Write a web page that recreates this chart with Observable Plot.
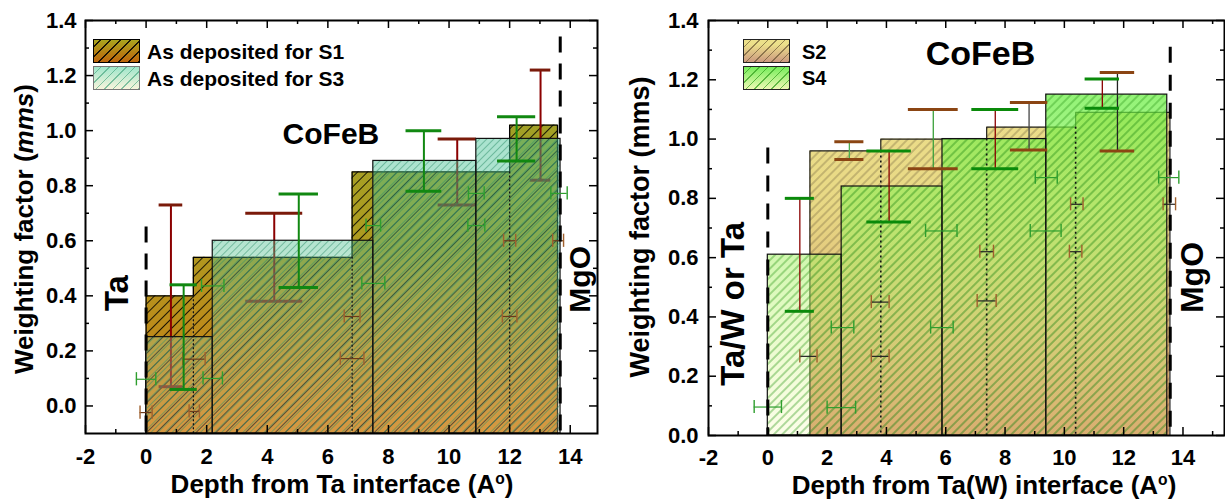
<!DOCTYPE html>
<html><head><meta charset="utf-8">
<script src="https://cdn.jsdelivr.net/npm/d3@7"></script>
<script src="https://cdn.jsdelivr.net/npm/@observablehq/plot@0.6"></script>
<style>
body{margin:0;background:#fff;overflow:hidden;font-family:"Liberation Sans",Arial,sans-serif;}
#wrap{position:relative;width:1225px;height:501px;overflow:hidden;}
.panel{position:absolute;top:0;}
.lbl{position:absolute;white-space:nowrap;color:#000;font-weight:bold;line-height:1;}
.xt{line-height:20px;transform:translateX(-50%);font-size:26px;}
.rot{transform:translate(-50%,-50%) rotate(-90deg);line-height:22px;}
.sw{position:absolute;width:47px;height:24px;box-sizing:border-box;}
sup{font-size:0.6em;vertical-align:0.55em;line-height:0;}
</style></head><body>
<div id="wrap">
  <div id="left" class="panel" style="left:0;width:612px"></div>
  <div id="right" class="panel" style="left:610px;width:615px"></div>

  <div class="sw" style="left:93px;top:39px;border:1.5px solid #000;background:repeating-linear-gradient(-45deg,rgba(0,0,0,0.85) 0 1.2px,transparent 1.2px 7px),linear-gradient(#aaa51e,#bd650c);"></div>
  <div class="sw" style="left:93px;top:66px;border:1px solid #777;background:repeating-linear-gradient(-45deg,rgba(60,160,120,0.6) 0 1px,transparent 1px 6px),linear-gradient(#9fe6cb,#f8f4dc);"></div>
  <div class="lbl" style="left:147px;top:41px;font-size:21px;">As deposited for S1</div>
  <div class="lbl" style="left:147px;top:68px;font-size:21px;">As deposited for S3</div>

  <div class="sw" style="left:743px;top:39px;border:1px solid #222;background:repeating-linear-gradient(-45deg,rgba(90,70,40,0.6) 0 1px,transparent 1px 6px),linear-gradient(#ece08a 20%,#cc9a80);"></div>
  <div class="sw" style="left:743px;top:66px;border:1px solid #222;background:repeating-linear-gradient(-45deg,rgba(50,160,30,0.7) 0 1px,transparent 1px 6px),linear-gradient(#76ee5a,#eef8b4);"></div>
  <div class="lbl" style="left:802px;top:42px;font-size:20px;">S2</div>
  <div class="lbl" style="left:802px;top:68px;font-size:20px;">S4</div>

  <div class="lbl rot" style="left:24px;top:229px;font-size:26px;">Weighting factor (<i>mms</i>)</div>
  <div class="lbl rot" style="left:640px;top:227px;font-size:27px;">Weighting factor (mms)</div>
  <div class="lbl xt" style="left:342px;top:474px;">Depth from Ta interface (A<sup>o</sup>)</div>
  <div class="lbl xt" style="left:984px;top:475px;">Depth from Ta(W) interface (A<sup>o</sup>)</div>
</div>
<script>
// ---------------- data ----------------
// Left panel (S1, S3): step profiles
const s1Edges = [0, 1.56, 6.8, 12.0, 13.58];
const s1Values = [0.40, 0.54, 0.85, 1.02];
const s3Edges = [0, 2.2, 7.5, 10.9, 13.68];
const s3Values = [0.25, 0.60, 0.89, 0.97];
// Right panel (S2, S4)
const s2Edges = [1.42, 3.81, 7.38, 10.38, 13.56];
const s2Values = [0.96, 1.00, 1.04, 1.09];
const s4Edges = [0, 2.49, 5.89, 9.39, 13.47];
const s4Values = [0.61, 0.84, 1.00, 1.15];

// vertical error bars (left)
const s1ErrX = [0.82, 4.23, 10.27, 13.02];
const s1ErrLo = [0.07, 0.38, 0.73, 0.82];
const s1ErrHi = [0.73, 0.70, 0.97, 1.22];
const s1ErrCap = [0.39, 0.94, 0.63, 0.34];
const s3ErrX = [1.24, 5.04, 9.17, 12.23];
const s3ErrLo = [0.06, 0.43, 0.78, 0.89];
const s3ErrHi = [0.44, 0.77, 1.00, 1.05];
const s3ErrCap = [0.45, 0.65, 0.59, 0.63];
// horizontal error bars (left)
const s1HX = [0.0, 1.58, 1.59, 6.8, 6.8, 12.0, 12.0, 13.6];
const s1HY = [-0.024, 0.17, -0.02, 0.325, 0.172, 0.325, 0.60, 0.60];
const s1HW = [0.2, 0.37, 0.17, 0.26, 0.39, 0.24, 0.2, 0.18];
const s3HX = [0.0, 2.2, 2.2, 7.5, 7.5, 10.9, 10.9, 13.63];
const s3HY = [0.097, 0.10, 0.436, 0.445, 0.655, 0.772, 0.655, 0.772];
const s3HW = [0.32, 0.32, 0.37, 0.38, 0.24, 0.26, 0.28, 0.27];

// vertical error bars (right)
const rErrX = [1.08, 2.75, 4.09, 5.58, 7.67, 8.81, 11.28, 11.79];
const rErrLo = [0.419, 0.931, 0.72, 0.90, 0.90, 0.963, 1.104, 0.96];
const rErrHi = [0.80, 0.991, 0.96, 1.10, 1.10, 1.123, 1.203, 1.225];
const rErrCap = [0.49, 0.49, 0.75, 0.84, 0.79, 0.63, 0.58, 0.58];
const rErrLine = ["#8b0000", "#4caf50", "#8b0000", "#3aa03a", "#8b0000", "#444", "#8b0000", "#222"];
const rErrCapColor = ["#0a8a0a", "#8b4513", "#0a8a0a", "#8b4513", "#0a8a0a", "#8b4513", "#0a8a0a", "#8b4513"];
// horizontal error bars (right)
const s2HX = [1.37, 3.79, 3.79, 7.38, 7.38, 10.38, 10.42, 13.54];
const s2HY = [0.267, 0.45, 0.267, 0.454, 0.62, 0.62, 0.78, 0.78];
const s2HW = [0.29, 0.3, 0.3, 0.32, 0.23, 0.21, 0.21, 0.21];
const s4HX = [0.0, 2.52, 2.48, 5.87, 5.85, 9.39, 9.37, 13.52];
const s4HY = [0.096, 0.364, 0.094, 0.364, 0.69, 0.87, 0.69, 0.87];
const s4HW = [0.46, 0.38, 0.48, 0.38, 0.53, 0.37, 0.52, 0.34];

// layer boundary markers (dashed) and annotations
const markLX = [0, 13.67], markLTop = [0.65, 1.34];
const markRX = [0, 13.57], markRTop = [0.97, 1.31];
const annLText = ["Ta", "CoFeB", "MgO"], annLX = [-0.94, 6.1, 14.32], annLY = [0.41, 0.985, 0.46], annLSize = [33, 30, 30], annLRot = [-90, 0, -90];
const annRText = ["Ta/W or Ta", "CoFeB", "MgO"], annRX = [-1.16, 7.17, 14.32], annRY = [0.444, 1.285, 0.533], annRSize = [33, 34, 32], annRRot = [-90, 0, -90];

// axes ticks
const xMajor = [-2, 0, 2, 4, 6, 8, 10, 12, 14];
const xMinorL = [-1, 1, 3, 5, 7, 9, 11, 13];
const xMinorR = [-1, 1, 3, 5, 7, 9, 11, 13, 15];
const yMajor = [0, 0.2, 0.4, 0.6, 0.8, 1.0, 1.2, 1.4];
const yMinor = [0.1, 0.3, 0.5, 0.7, 0.9, 1.1, 1.3];

// ---------------- helpers ----------------
const zipErr = (X, L, H, C) => X.map((x, i) => ({x, lo: L[i], hi: H[i], cap: C[i]}));
const zipH = (X, Y, W) => X.map((x, i) => ({x, y: Y[i], hw: W[i]}));
const steps = (e, v) => v.map((y, i) => ({x1: e[i], x2: e[i + 1], y}));
function outline(e, v, y0) {
  const pts = [{x: e[0], y: y0}];
  v.forEach((y, i) => pts.push({x: e[i], y}));
  pts.push({x: e[e.length - 1], y: v[v.length - 1]});
  pts.push({x: e[e.length - 1], y: y0});
  return pts;
}
const inner = (e, v) => e.slice(1, -1).map((x, i) => ({x, y: Math.min(v[i], v[i + 1])}));
const ann = (T, X, Y, S, R) => T.map((t, i) => ({t, x: X[i], y: Y[i], s: S[i], r: R[i]}));

function addDefs(svg, top, bottom, specs) {
  const defs = d3.select(svg).insert("defs", ":first-child");
  specs.grads.forEach(([id, stops]) => {
    const g = defs.append("linearGradient").attr("id", id).attr("gradientUnits", "userSpaceOnUse")
      .attr("x1", 0).attr("x2", 0).attr("y1", top).attr("y2", bottom);
    stops.forEach(([o, c, a]) => g.append("stop").attr("offset", o).attr("stop-color", c).attr("stop-opacity", a));
  });
  specs.hatches.forEach(([id, color, sp, w, op]) => {
    const p = defs.append("pattern").attr("id", id).attr("patternUnits", "userSpaceOnUse")
      .attr("width", sp).attr("height", sp).attr("patternTransform", "rotate(45)");
    p.append("line").attr("x1", sp / 2).attr("x2", sp / 2).attr("y1", 0).attr("y2", sp)
      .attr("stroke", color).attr("stroke-width", w).attr("stroke-opacity", op);
  });
}

function tickMarks(fw, fh, minorX) {
  return [
    Plot.tickX(xMajor, {x: d => d, insetTop: fh - 8, strokeWidth: 1.5}),
    Plot.tickX(xMajor, {x: d => d, insetBottom: fh - 8, strokeWidth: 1.5}),
    Plot.tickX(minorX, {x: d => d, insetTop: fh - 4, strokeWidth: 1.5}),
    Plot.tickX(minorX, {x: d => d, insetBottom: fh - 4, strokeWidth: 1.5}),
    Plot.tickY(yMajor, {y: d => d, insetRight: fw - 8, strokeWidth: 1.5}),
    Plot.tickY(yMajor, {y: d => d, insetLeft: fw - 8, strokeWidth: 1.5}),
    Plot.tickY(yMinor, {y: d => d, insetRight: fw - 4, strokeWidth: 1.5}),
    Plot.tickY(yMinor, {y: d => d, insetLeft: fw - 4, strokeWidth: 1.5})
  ];
}

function errMarks(data, lineColor, capColor, lw, cw) {
  return [
    Plot.ruleX(data, {x: "x", y1: "lo", y2: "hi", stroke: lineColor, strokeWidth: lw}),
    Plot.ruleY(data, {y: "hi", x1: d => d.x - d.cap, x2: d => d.x + d.cap, stroke: capColor, strokeWidth: cw}),
    Plot.ruleY(data, {y: "lo", x1: d => d.x - d.cap, x2: d => d.x + d.cap, stroke: capColor, strokeWidth: cw})
  ];
}
function hMarks(data, lineColor, capColor, capH) {
  return [
    Plot.ruleY(data, {y: "y", x1: d => d.x - d.hw, x2: d => d.x + d.hw, stroke: lineColor, strokeWidth: 1.2}),
    Plot.ruleX(data, {x: d => d.x - d.hw, y1: d => d.y - capH, y2: d => d.y + capH, stroke: capColor, strokeWidth: 1.4}),
    Plot.ruleX(data, {x: d => d.x + d.hw, y1: d => d.y - capH, y2: d => d.y + capH, stroke: capColor, strokeWidth: 1.4})
  ];
}
function annMarks(data) {
  return data.map(a => Plot.text([a], {x: "x", y: "y", text: "t", fontSize: a.s, rotate: a.r, fontWeight: "bold", fill: "#000"}));
}
const font = "'Liberation Sans', Arial, sans-serif";

// ---------------- left panel ----------------
{
  const W = 612, H = 501, mt = 20, mb = 68, ml = 85, mr = 15, y0 = -0.1;
  const fw = W - ml - mr, fh = H - mt - mb;
  const r1 = steps(s1Edges, s1Values), r3 = steps(s3Edges, s3Values);
  const rectOpt = {x1: "x1", x2: "x2", y1: () => y0, y2: "y"};
  const svg = Plot.plot({
    width: W, height: H, marginTop: mt, marginBottom: mb, marginLeft: ml, marginRight: mr,
    x: {domain: [-2, 14.9]}, y: {domain: [y0, 1.4]},
    style: {fontFamily: font, fontWeight: "bold", background: "transparent", color: "#000"},
    marks: [
      Plot.rect(r1, {...rectOpt, fill: "url(#gS1)"}),
      Plot.rect(r1, {...rectOpt, fill: "url(#hS1)"}),
      Plot.line(outline(s1Edges, s1Values, y0), {x: "x", y: "y", curve: "step-after", stroke: "#000", strokeWidth: 1.3}),
      ...errMarks(zipErr(s1ErrX, s1ErrLo, s1ErrHi, s1ErrCap), "#8b0000", "#7a1a0a", 2, 3),
      Plot.rect(r3, {...rectOpt, fill: "url(#gS3)"}),
      Plot.rect(r3, {...rectOpt, fill: "url(#hS3)", stroke: "#111", strokeWidth: 1.2}),
      Plot.ruleX(inner(s1Edges, s1Values), {x: "x", y1: "y", y2: () => y0, stroke: "#111", strokeWidth: 1.3, strokeDasharray: "2,2"}),
      ...hMarks(zipH(s1HX, s1HY, s1HW), "#6b3a1a", "#a0602d", 0.024),
      ...errMarks(zipErr(s3ErrX, s3ErrLo, s3ErrHi, s3ErrCap), "#118811", "#118811", 2, 3),
      ...hMarks(zipH(s3HX, s3HY, s3HW), "#2e9e2e", "#2e9e2e", 0.024),
      Plot.ruleX(markLX.map((x, i) => ({x, top: markLTop[i]})), {x: "x", y1: "top", y2: () => y0, stroke: "#000", strokeWidth: 3, strokeDasharray: "16,11"}),
      ...annMarks(ann(annLText, annLX, annLY, annLSize, annLRot)),
      ...tickMarks(fw, fh, xMinorL),
      Plot.axisX({ticks: xMajor, tickSize: 0, tickPadding: 15, fontSize: 22, tickFormat: d => String(d), label: null}),
      Plot.axisY({ticks: yMajor, tickSize: 0, tickPadding: 9, fontSize: 22, tickFormat: d3.format(".1f"), label: null}),
      Plot.frame({stroke: "#000", strokeWidth: 2})
    ]
  });
  addDefs(svg, mt, H - mb, {
    grads: [["gS1", [[0, "#96a42c", 1], [0.5, "#ac9c20", 1], [1, "#cc7a14", 1]]],
            ["gS3", [[0, "#38c49c", 0.5], [0.55, "#50c090", 0.42], [1, "#f0e0b0", 0.28]]]],
    hatches: [["hS1", "#000", 7, 1, 0.85], ["hS3", "#2f8f6a", 5, 0.9, 0.55]]
  });
  document.getElementById("left").appendChild(svg);
}

// ---------------- right panel ----------------
{
  const W = 615, H = 501, mt = 20, mb = 66, ml = 98, mr = 1, y0 = 0;
  const fw = W - ml - mr, fh = H - mt - mb;
  const r2 = steps(s2Edges, s2Values), r4 = steps(s4Edges, s4Values);
  const rectOpt = {x1: "x1", x2: "x2", y1: () => y0, y2: "y"};
  const verr = rErrX.map((x, i) => ({x, lo: rErrLo[i], hi: rErrHi[i], cap: rErrCap[i], lc: rErrLine[i], cc: rErrCapColor[i]}));
  const svg = Plot.plot({
    width: W, height: H, marginTop: mt, marginBottom: mb, marginLeft: ml, marginRight: mr,
    x: {domain: [-2, 15.4]}, y: {domain: [y0, 1.4]},
    style: {fontFamily: font, fontWeight: "bold", background: "transparent", color: "#000"},
    marks: [
      Plot.rect(r2, {...rectOpt, fill: "url(#gS2)"}),
      Plot.rect(r2, {...rectOpt, fill: "url(#hS2)"}),
      Plot.line(outline(s2Edges, s2Values, y0), {x: "x", y: "y", curve: "step-after", stroke: "#222", strokeWidth: 1.2}),
      Plot.rect(r4, {...rectOpt, fill: "url(#gS4)"}),
      Plot.rect(r4, {...rectOpt, fill: "url(#hS4)", stroke: "#111", strokeWidth: 1.2}),
      Plot.ruleX(inner(s2Edges, s2Values), {x: "x", y1: "y", y2: () => y0, stroke: "#111", strokeWidth: 1.6, strokeDasharray: "2,3"}),
      Plot.ruleX(verr, {x: "x", y1: "lo", y2: "hi", stroke: "lc", strokeWidth: 1.3}),
      Plot.ruleY(verr, {y: "hi", x1: d => d.x - d.cap, x2: d => d.x + d.cap, stroke: "cc", strokeWidth: 3}),
      Plot.ruleY(verr, {y: "lo", x1: d => d.x - d.cap, x2: d => d.x + d.cap, stroke: "cc", strokeWidth: 3}),
      ...hMarks(zipH(s2HX, s2HY, s2HW), "#222", "#a0602d", 0.022),
      ...hMarks(zipH(s4HX, s4HY, s4HW), "#2e9e2e", "#2e9e2e", 0.022),
      Plot.ruleX(markRX.map((x, i) => ({x, top: markRTop[i]})), {x: "x", y1: "top", y2: () => y0, stroke: "#000", strokeWidth: 3, strokeDasharray: "16,12"}),
      ...annMarks(ann(annRText, annRX, annRY, annRSize, annRRot)),
      ...tickMarks(fw, fh, xMinorR),
      Plot.axisX({ticks: xMajor, tickSize: 0, tickPadding: 14, fontSize: 22, tickFormat: d => String(d), label: null}),
      Plot.axisY({ticks: yMajor, tickSize: 0, tickPadding: 10, fontSize: 22, tickFormat: d3.format(".1f"), label: null}),
      Plot.frame({stroke: "#000", strokeWidth: 2})
    ]
  });
  addDefs(svg, mt, H - mb, {
    grads: [["gS2", [[0, "#f0e490", 1], [0.45, "#e8d884", 1], [1, "#d49a68", 1]]],
            ["gS4", [[0, "#4cee30", 0.8], [0.5, "#9cf060", 0.58], [1, "#eef890", 0.2]]]],
    hatches: [["hS2", "#5a4a30", 6, 0.9, 0.6], ["hS4", "#2f9a1c", 6, 1, 0.75]]
  });
  document.getElementById("right").appendChild(svg);
}
</script>
</body></html>
